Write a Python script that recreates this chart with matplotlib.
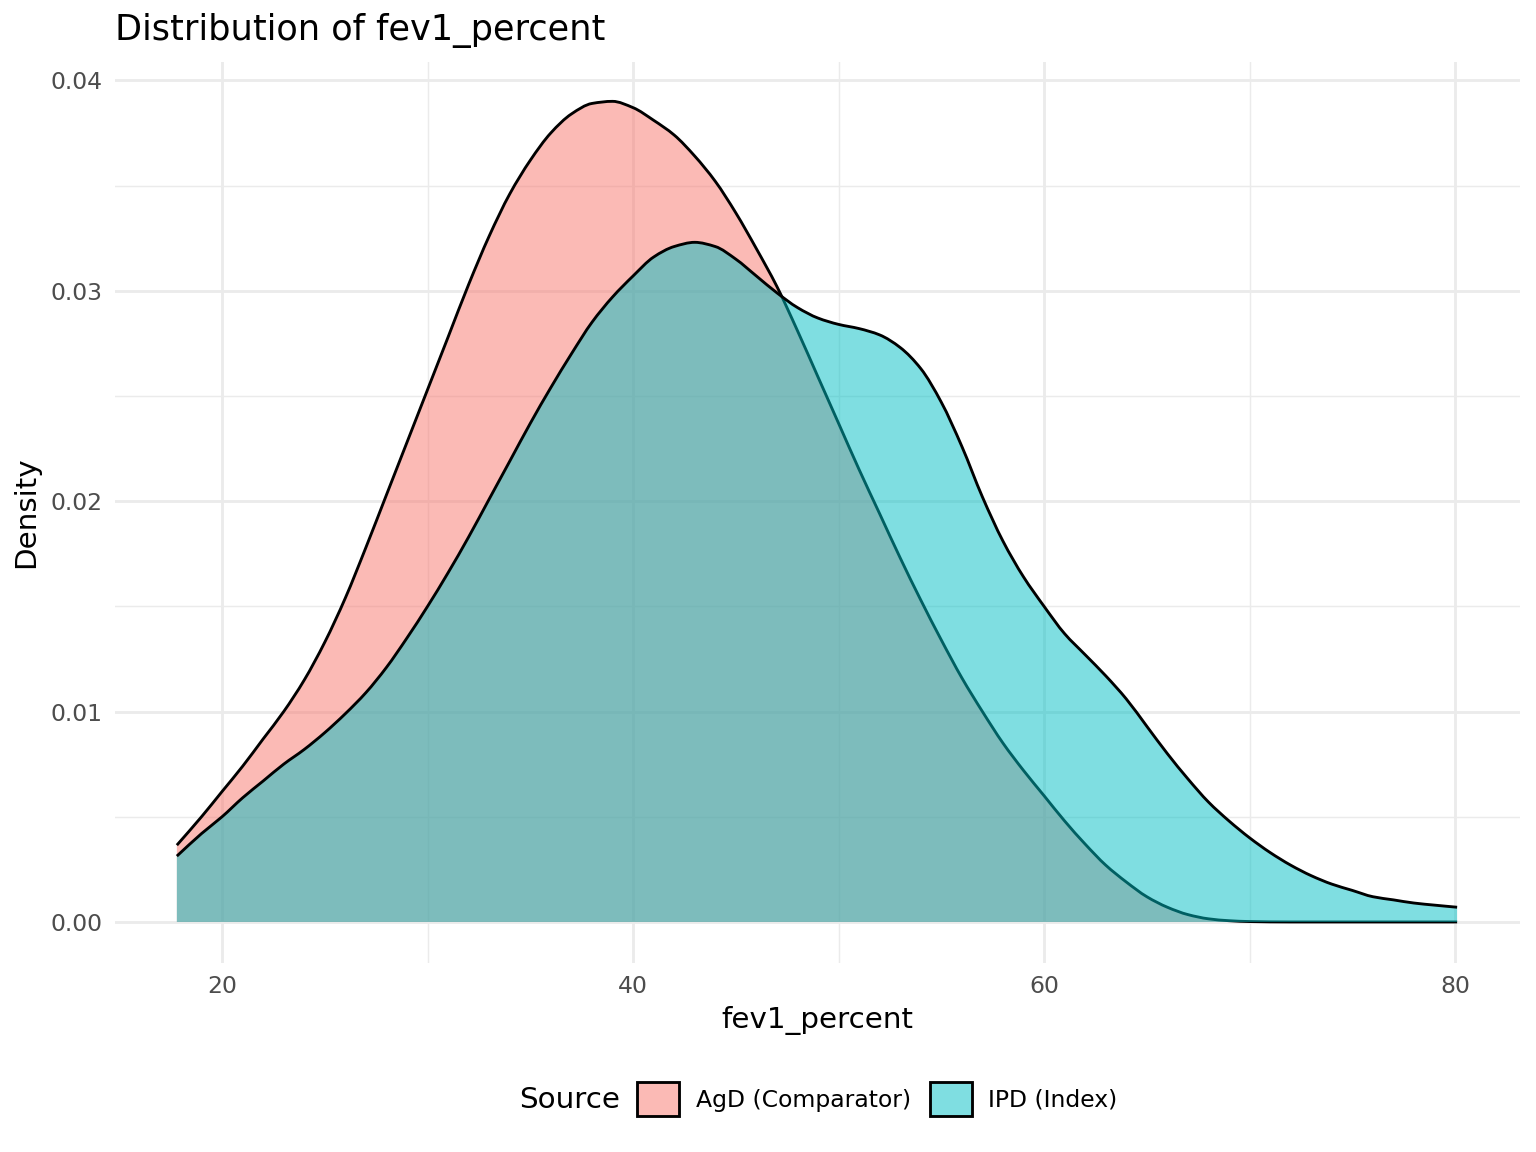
import numpy as np
import matplotlib
matplotlib.use("Agg")
import matplotlib.pyplot as plt
from matplotlib.patches import Patch, PathPatch
from matplotlib.path import Path
from matplotlib.ticker import MultipleLocator

# ---- data ----
agd_x = [17.8, 19, 20, 21, 22, 23, 24, 25, 26, 27, 28, 29, 30, 31, 32, 33, 34, 35, 36, 37,
         38, 39, 40, 41, 42, 43, 44, 45, 46, 47, 48, 49, 50, 51, 52, 53, 54, 55, 56, 57,
         58, 59, 60, 61, 62, 63, 64, 65, 66, 67, 68, 69, 70, 72, 75, 80.1]
agd_d = [0.00365, 0.0050, 0.0062, 0.0074, 0.0087, 0.0100, 0.0115, 0.0133, 0.0154, 0.0178,
         0.0203, 0.0228, 0.0253, 0.0278, 0.0303, 0.0326, 0.0346, 0.0362, 0.0375, 0.0384,
         0.0389, 0.0390, 0.0387, 0.0381, 0.0374, 0.0364, 0.0352, 0.0337, 0.0320, 0.0302,
         0.0281, 0.0259, 0.0237, 0.0215, 0.0194, 0.0173, 0.0153, 0.0134, 0.0116, 0.0100,
         0.0085, 0.0072, 0.0060, 0.0048, 0.0037, 0.0027, 0.0019, 0.0012, 0.0007, 0.00035,
         0.00015, 0.00006, 0.00002, 0.0, 0.0, 0.0]

ipd_x = [17.8, 19, 20, 21, 22, 23, 24, 25, 26, 27, 28, 29, 30, 31, 32, 33, 34, 35, 36, 37,
         38, 39, 40, 41, 42, 43, 44, 45, 46, 47, 48, 49, 50, 51, 52, 53, 54, 55, 56, 57,
         58, 59, 60, 61, 62, 63, 64, 65, 66, 67, 68, 69, 70, 71, 72, 73, 74, 75, 76, 77,
         78, 79, 80.1]
ipd_d = [0.00313, 0.0042, 0.0050, 0.0059, 0.0067, 0.0075, 0.0082, 0.0090, 0.0099, 0.0109,
         0.0121, 0.0135, 0.0150, 0.0166, 0.0183, 0.0201, 0.0219, 0.0237, 0.0254, 0.0270,
         0.0285, 0.0297, 0.0307, 0.0316, 0.0321, 0.0323, 0.0321, 0.0315, 0.0307, 0.0299,
         0.0292, 0.0287, 0.0284, 0.0282, 0.0279, 0.0273, 0.0263, 0.0247, 0.0226, 0.0202,
         0.0181, 0.0164, 0.0150, 0.0137, 0.0127, 0.0117, 0.0106, 0.0093, 0.0080, 0.0068,
         0.0057, 0.0048, 0.0040, 0.0033, 0.0027, 0.0022, 0.0018, 0.0015, 0.0012, 0.00105,
         0.0009, 0.0008, 0.0007]

series_labels = ["AgD (Comparator)", "IPD (Index)"]
series_colors = ["#F8766D", "#00BFC4"]
x_ticks = [20, 40, 60, 80]
y_ticks = [0.00, 0.01, 0.02, 0.03, 0.04]


def smooth_path_vertices(xs, ys):
    """Bezier (CURVE4) path through the read points, monotone tangents."""
    x = np.asarray(xs, float)
    y = np.asarray(ys, float)
    h = np.diff(x)
    delta = np.diff(y) / h
    n = len(x)
    m = np.zeros(n)
    m[0], m[-1] = delta[0], delta[-1]
    for i in range(1, n - 1):
        if delta[i - 1] * delta[i] <= 0:
            m[i] = 0.0
        else:
            w1 = 2 * h[i] + h[i - 1]
            w2 = h[i] + 2 * h[i - 1]
            m[i] = (w1 + w2) / (w1 / delta[i - 1] + w2 / delta[i])
    verts = [(x[0], y[0])]
    codes = [Path.MOVETO]
    for i in range(n - 1):
        d = h[i] / 3.0
        verts += [(x[i] + d, y[i] + m[i] * d), (x[i + 1] - d, y[i + 1] - m[i + 1] * d),
                  (x[i + 1], y[i + 1])]
        codes += [Path.CURVE4] * 3
    return verts, codes


# ---- figure ----
plt.rcParams['font.family'] = ['DejaVu Sans']
fig = plt.figure(figsize=(8, 6), dpi=192)
ax = fig.add_axes([115/1536, 1 - 963/1152, (1520-115)/1536, (963-62)/1152])

z = 2
for xs, ds, col in [(agd_x, agd_d, series_colors[0]), (ipd_x, ipd_d, series_colors[1])]:
    verts, codes = smooth_path_vertices(xs, ds)
    fill_verts = verts + [(xs[-1], 0.0), (xs[0], 0.0), verts[0]]
    fill_codes = codes + [Path.LINETO, Path.LINETO, Path.CLOSEPOLY]
    ax.add_patch(PathPatch(Path(fill_verts, fill_codes), facecolor=col, alpha=0.5,
                           edgecolor="none", lw=0, zorder=z))
    ax.add_patch(PathPatch(Path(verts, codes), facecolor="none", edgecolor="black",
                           lw=1.07, zorder=z + 1, capstyle="butt"))
    z += 2

ax.set_xlim(14.79, 83.16)
ax.set_ylim(-0.00195, 0.04087)
ax.set_xticks(x_ticks)
ax.set_xticklabels([str(t) for t in x_ticks])
ax.set_yticks(y_ticks)
ax.set_yticklabels([f"{t:.2f}" for t in y_ticks])
ax.xaxis.set_minor_locator(MultipleLocator(10))
ax.yaxis.set_minor_locator(MultipleLocator(0.005))

ax.grid(True, which="major", color="#EBEBEB", lw=1.07, zorder=0)
ax.grid(True, which="minor", color="#EBEBEB", lw=0.53, zorder=0)
ax.set_axisbelow(True)
for s in ax.spines.values():
    s.set_visible(False)
ax.tick_params(which="both", length=0)
ax.tick_params(axis="both", which="major", labelsize=8.8, labelcolor="#4D4D4D", pad=4.5)

ax.set_xlabel("fev1_percent", fontsize=11, labelpad=3)
ax.set_ylabel("Density", fontsize=11, labelpad=4)
fig.text(115/1536, 1 - 30/1152, "Distribution of fev1_percent", fontsize=13.2,
         ha="left", va="center")

handles = [Patch(facecolor=matplotlib.colors.to_rgba(c, 0.5), edgecolor="black", lw=1.07)
           for c in series_colors]
leg = fig.legend(handles, series_labels, loc="center left",
                 bbox_to_anchor=(637/1536, 1 - 1099/1152), ncol=2, frameon=False,
                 fontsize=8.8, handlelength=1.8, handleheight=1.8, handletextpad=0.7,
                 columnspacing=0.8, borderpad=0, borderaxespad=0)
fig.text(620/1536, 1 - 1100/1152, "Source", fontsize=11, ha="right", va="center")

fig.savefig("out.png", dpi=192, facecolor="white")
